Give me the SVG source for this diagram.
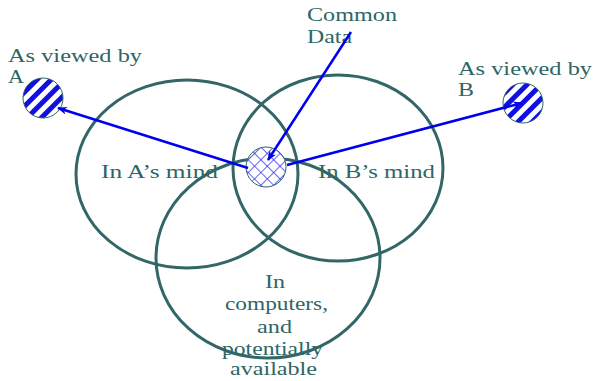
<svg xmlns="http://www.w3.org/2000/svg" width="595" height="381" viewBox="0 0 595 381">
<style>
.e{fill:none;stroke:#336666;stroke-width:3}
.t{font-size:19px;fill:#2e6666}
.a{stroke:#0000ee;stroke-width:2.5;fill:none}
</style>
<defs>
<pattern id="st" patternUnits="userSpaceOnUse" width="10" height="10" patternTransform="rotate(45)">
<rect width="10" height="10" fill="#fff"/><rect width="5" height="10" fill="#1010e0"/>
</pattern>
<pattern id="ch" patternUnits="userSpaceOnUse" width="9" height="9" patternTransform="rotate(45)">
<rect width="9" height="9" fill="#fff"/><path d="M0 0V9M0 0H9" stroke="#3333ee" stroke-width="1.5"/>
</pattern>
<marker id="ah" markerWidth="10" markerHeight="8" refX="9" refY="4" orient="auto" markerUnits="userSpaceOnUse">
<path d="M0 0L10 4L0 8L3 4Z" fill="#0000ee"/>
</marker>
</defs>
<g font-family="Liberation Serif, Times New Roman, DejaVu Serif, serif">
<g id="mindA"><ellipse class="e" cx="187" cy="174" rx="111" ry="94"/><text class="t" x="101" y="178" textLength="117" lengthAdjust="spacingAndGlyphs">In A’s mind</text></g>
<g id="mindB"><ellipse class="e" cx="338" cy="168" rx="105" ry="93"/><text class="t" x="318" y="178" textLength="117" lengthAdjust="spacingAndGlyphs">In B’s mind</text></g>
<g id="computers"><ellipse class="e" cx="268" cy="258" rx="112" ry="100"/>
<text class="t" x="265" y="288" textLength="20" lengthAdjust="spacingAndGlyphs">In</text>
<text class="t" x="225" y="310" textLength="103" lengthAdjust="spacingAndGlyphs">computers,</text>
<text class="t" x="257" y="333" textLength="35" lengthAdjust="spacingAndGlyphs">and</text>
<text class="t" x="222" y="355" textLength="101" lengthAdjust="spacingAndGlyphs">potentially</text>
<text class="t" x="230" y="375" textLength="87" lengthAdjust="spacingAndGlyphs">available</text>
</g>
<g id="common"><circle cx="266" cy="167" r="20" fill="url(#ch)" stroke="#336666" stroke-width="1"/></g>
<g id="commonLabel"><text class="t" x="307" y="21" textLength="90" lengthAdjust="spacingAndGlyphs">Common</text><text class="t" x="307" y="43" textLength="45" lengthAdjust="spacingAndGlyphs">Data</text></g>
<g id="viewA"><circle cx="43" cy="98" r="20" fill="url(#st)" stroke="#336666" stroke-width="1"/><text class="t" x="8" y="62" textLength="134" lengthAdjust="spacingAndGlyphs">As viewed by</text><text class="t" x="8" y="83" textLength="16" lengthAdjust="spacingAndGlyphs">A</text></g>
<g id="viewB"><circle cx="523" cy="103" r="20" fill="url(#st)" stroke="#336666" stroke-width="1"/><text class="t" x="458" y="75" textLength="134" lengthAdjust="spacingAndGlyphs">As viewed by</text><text class="t" x="458" y="96" textLength="16" lengthAdjust="spacingAndGlyphs">B</text></g>
</g>
<g id="connectors">
<line class="a" x1="248" y1="168" x2="58" y2="108" marker-end="url(#ah)"/>
<line class="a" x1="287" y1="165" x2="522" y2="103" marker-end="url(#ah)"/>
<line class="a" x1="351" y1="32" x2="268" y2="160" marker-end="url(#ah)"/>
</g>
</svg>
